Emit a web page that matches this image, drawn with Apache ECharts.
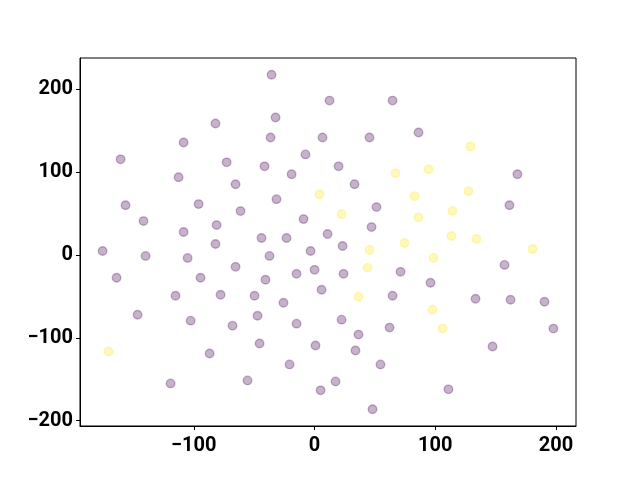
<!DOCTYPE html>
<html>
<head>
<meta charset="utf-8">
<script src="https://cdn.jsdelivr.net/npm/echarts@6/dist/echarts.min.js"></script>
<style>
  html, body { margin: 0; padding: 0; background: #fff; }
  #chart { width: 640px; height: 480px; }
</style>
</head>
<body>
<div id="chart"></div>
<script>
// 紫色类别的点 [x, y]
const purplePoints = [
  [-35.6, 217.4], [12.4, 186.2], [-32.3, 165.8], [-82, 158.6], [-36.4, 141.7], [6.6, 141.7],
  [-108.4, 135.7], [-7.5, 121.3], [-160.6, 115.3], [-72.8, 111.7], [-41.4, 106.9], [-112.6, 93.7],
  [-19, 97.3], [-65.4, 85.3], [-31.5, 67.3], [-156.5, 60], [-96, 61.3], [-61.3, 52.9],
  [-141.6, 40.8], [-9.1, 43.2], [-81.1, 36], [10.8, 25.2], [-108.4, 27.6], [-43.9, 20.4],
  [-23.2, 20.4], [-82, 13.2], [-175.5, 4.8], [-3.3, 4.8],
  [64.6, 186.2], [45.5, 141.7], [86.1, 147.7], [19.9, 106.9], [168, 97.3], [33.1, 85.3],
  [161.4, 60], [51.3, 57.7], [47.2, 33.6], [23.2, 10.8],
  [-139.9, -1.2], [-105.1, -3.6], [-37.3, -1.2], [-65.4, -14.4], [-163.9, -27.6], [-94.4, -27.6],
  [-40.6, -30], [-14.9, -22.8], [0, -18], [5.8, -42], [-115.1, -49.2], [-77.8, -48],
  [-49.7, -49.2], [-25.7, -57.7], [-146.5, -72.1], [-102.6, -79.3], [-67.9, -85.3], [-47.2, -73.3],
  [-14.9, -82.9], [-86.9, -118.9], [-45.5, -106.9], [0.8, -109.3], [-20.7, -132.1], [-119.2, -155],
  [-55.5, -151.4], [5, -163.4],
  [157.3, -12], [24, -22.8], [71.2, -20.4], [96, -33.6], [64.6, -49.2], [133.3, -52.9],
  [162.3, -54.1], [190.4, -56.5], [22.4, -78.1], [197.8, -88.9], [62.1, -87.7], [36.4, -96.1],
  [33.9, -115.3], [147.4, -110.5], [54.6, -132.1], [17.4, -152.6], [110.9, -162.2], [48, -186.2]
]
// 黄色类别的点 [x, y]
const yellowPoints = [
  [4.1, 73.3], [129.1, 130.9], [67.1, 98.5], [94.4, 103.3], [82.8, 70.9], [127.5, 76.9],
  [22.4, 49.2], [86.1, 45.6], [114.2, 52.9], [113.4, 22.8], [134.1, 19.2], [74.5, 14.4],
  [45.5, 6], [180.5, 7.2], [98.5, -3.6], [43.9, -15.6], [36.4, -50.5], [97.7, -66.1],
  [106, -88.9], [-170.5, -116.5]
]
// 刻度
const xTicks = [-100, 0, 100, 200]
const yTicks = [-200, -100, 0, 100, 200]

const myChart = echarts.init(document.getElementById('chart'))

const fmt = v => String(v).replace('-', '\u2212')

const axisCommon = {
  type: 'value',
  scale: true,
  splitLine: { show: false },
  axisLine: { show: true, onZero: false, lineStyle: { color: '#000', width: 1 } },
  axisTick: { show: true, inside: false, length: 4, lineStyle: { color: '#000', width: 1 } },
  axisLabel: {
    color: '#000',
    fontFamily: 'Roboto',
    fontWeight: 'bold',
    fontSize: 20,
    margin: 7,
    formatter: fmt
  }
}

const pointStyle = color => ({
  color: color,
  opacity: 0.3,
  borderColor: color,
  borderWidth: 1.4
})

const option = {
  animation: false,
  grid: {
    left: 80,
    right: 64,
    top: 58,
    bottom: 54,
    show: true,
    borderColor: '#000',
    borderWidth: 1,
    backgroundColor: 'transparent'
  },
  xAxis: Object.assign({}, axisCommon, {
    min: -194.2,
    max: 216.5,
    axisTick: Object.assign({}, axisCommon.axisTick, { customValues: xTicks }),
    axisLabel: Object.assign({}, axisCommon.axisLabel, { customValues: xTicks, margin: 10 })
  }),
  yAxis: Object.assign({}, axisCommon, {
    min: -206.4,
    max: 237.6,
    axisTick: Object.assign({}, axisCommon.axisTick, { customValues: yTicks }),
    axisLabel: Object.assign({}, axisCommon.axisLabel, { customValues: yTicks })
  }),
  series: [
    {
      type: 'scatter',
      symbolSize: 8.5,
      data: purplePoints,
      itemStyle: pointStyle('#440154'),
      emphasis: { disabled: true }
    },
    {
      type: 'scatter',
      symbolSize: 8.5,
      data: yellowPoints,
      itemStyle: pointStyle('#fde725'),
      emphasis: { disabled: true }
    }
  ]
}
myChart.setOption(option)
</script>
</body>
</html>
